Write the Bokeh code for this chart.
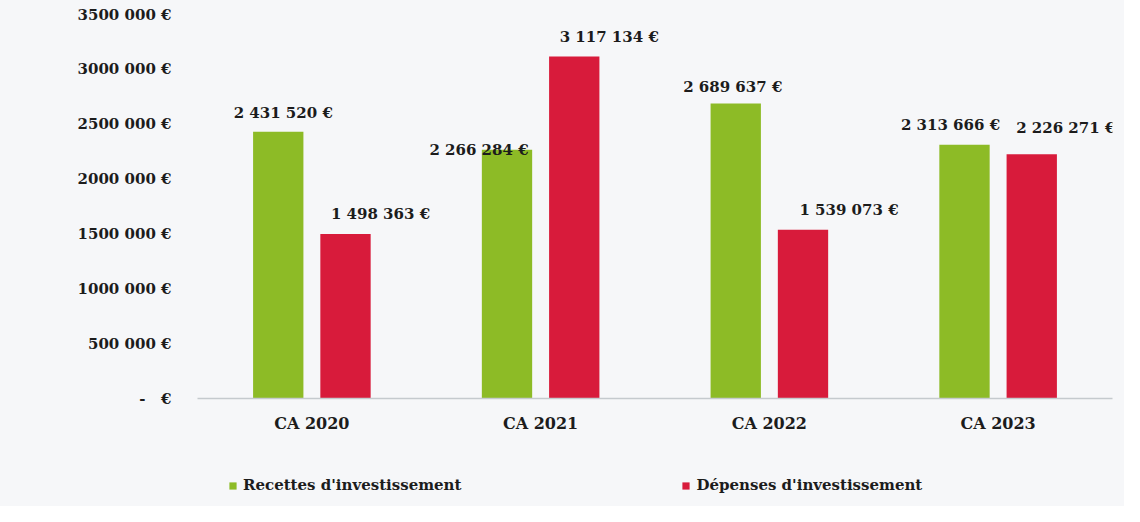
from bokeh.plotting import figure
from bokeh.layouts import column
from bokeh.models import (ColumnDataSource, FactorRange, FixedTicker, Legend, LegendItem,
                          LabelSet)
from bokeh.core.properties import value
from bokeh.transform import dodge
from bokeh.embed import file_html
from bokeh.resources import INLINE

categories = ["CA 2020", "CA 2021", "CA 2022", "CA 2023"]
recettes = [2431520, 2266284, 2689637, 2313666]
depenses = [1498363, 3117134, 1539073, 2226271]
series_names = ["Recettes d'investissement", "Dépenses d'investissement"]
y_ticks = [0, 500000, 1000000, 1500000, 2000000, 2500000, 3000000, 3500000]
y_tick_labels = ["-\u00a0\u00a0\u00a0€", "500 000 €", "1000 000 €", "1500 000 €",
                 "2000 000 €", "2500 000 €", "3000 000 €", "3500 000 €"]

# label nudges (pixels) relative to bar top centre, as placed in the original
rec_label_dx = [5, -28, -3, -14]
rec_label_dy = [19, 0, 16, 20]
dep_label_dx = [35, 35, 46, 34]
dep_label_dy = [20, 20, 20, 26]

GREEN = "#8dbb26"
RED = "#d81b3b"
BG = "#f6f7f9"
TXT = "#1c1c1c"
FONT = "DejaVu Serif"


def fmt(v):
    s = f"{v:,}".replace(",", " ")
    return s + " €"


src = ColumnDataSource(dict(cat=categories, rec=recettes, dep=depenses))

p = figure(x_range=FactorRange(factors=categories, range_padding=0),
           y_range=(0, 3500000), width=1124, height=452,
           output_backend="svg", toolbar_location=None,
           min_border_left=197, min_border_right=12, min_border_top=14,
           min_border_bottom=54,
           background_fill_color=BG, border_fill_color=BG)
p.outline_line_color = None
p.grid.grid_line_color = None

W = 0.22
OFF = 0.147
r1 = p.vbar(x=dodge("cat", -OFF, range=p.x_range), top="rec", width=W, source=src,
            fill_color=GREEN, line_color=None)
r2 = p.vbar(x=dodge("cat", OFF, range=p.x_range), top="dep", width=W, source=src,
            fill_color=RED, line_color=None)

lab_rec = ColumnDataSource(dict(cat=categories, y=recettes,
                                txt=[fmt(v) for v in recettes],
                                dx=rec_label_dx, dy=rec_label_dy))
lab_dep = ColumnDataSource(dict(cat=categories, y=depenses,
                                txt=[fmt(v) for v in depenses],
                                dx=dep_label_dx, dy=dep_label_dy))
for s, off in ((lab_rec, -OFF), (lab_dep, OFF)):
    ls = LabelSet(x=dodge("cat", off, range=p.x_range), y="y", text="txt", source=s,
                  x_offset="dx", y_offset="dy", text_align="center",
                  text_baseline="middle", text_font=value(FONT),
                  text_font_size=value("15px"),
                  text_font_style=value("bold"), text_color=TXT)
    p.add_layout(ls)

# axes
p.yaxis.ticker = FixedTicker(ticks=y_ticks)
p.yaxis.major_label_overrides = {t: l for t, l in zip(y_ticks, y_tick_labels)}
p.yaxis.axis_line_color = None
p.yaxis.major_tick_line_color = None
p.yaxis.minor_tick_line_color = None
p.yaxis.major_label_standoff = 20
p.yaxis.major_label_text_font = FONT
p.yaxis.major_label_text_font_size = "15px"
p.yaxis.major_label_text_font_style = "bold"
p.yaxis.major_label_text_color = TXT

p.xaxis.axis_line_color = "#c5cace"
p.xaxis.axis_line_width = 1.5
p.xaxis.major_tick_line_color = None
p.xaxis.minor_tick_line_color = None
p.xaxis.major_label_standoff = 9
p.xaxis.major_label_text_font = FONT
p.xaxis.major_label_text_font_size = "16px"
p.xaxis.major_label_text_font_style = "bold"
p.xaxis.major_label_text_color = TXT

# legend strip below the chart (its frame aligns with the chart frame)
lf = figure(width=1124, height=54, output_backend="svg", toolbar_location=None,
            x_range=(0, 1), y_range=(0, 1), min_border=0,
            min_border_left=197, min_border_right=12,
            background_fill_color=BG, border_fill_color=BG)
lf.outline_line_color = None
lf.axis.visible = False
lf.grid.grid_line_color = None
# legend swatches: one bar per series placed far outside the strip's ranges
swatch = ColumnDataSource(dict(x=[-50.0], top=[-50.0], bottom=[-60.0]))
g1 = lf.vbar(x="x", top="top", bottom="bottom", width=0.1, source=swatch,
             fill_color=GREEN, line_color=None)
g2 = lf.vbar(x="x", top="top", bottom="bottom", width=0.1, source=swatch,
             fill_color=RED, line_color=None)
legend = Legend(items=[LegendItem(label=series_names[0], renderers=[g1]),
                       LegendItem(label=series_names[1], renderers=[g2])],
                orientation="horizontal", location=(31, 12),
                spacing=220, glyph_width=9, glyph_height=9, label_standoff=6,
                label_text_font=FONT, label_text_font_size="15px",
                label_text_font_style="bold",
                label_text_color=TXT, background_fill_alpha=0,
                border_line_color=None, margin=0, padding=0)
lf.add_layout(legend)

layout = column(p, lf, spacing=0, styles={"background-color": BG})
open("out.html", "w").write(file_html(layout, INLINE))
